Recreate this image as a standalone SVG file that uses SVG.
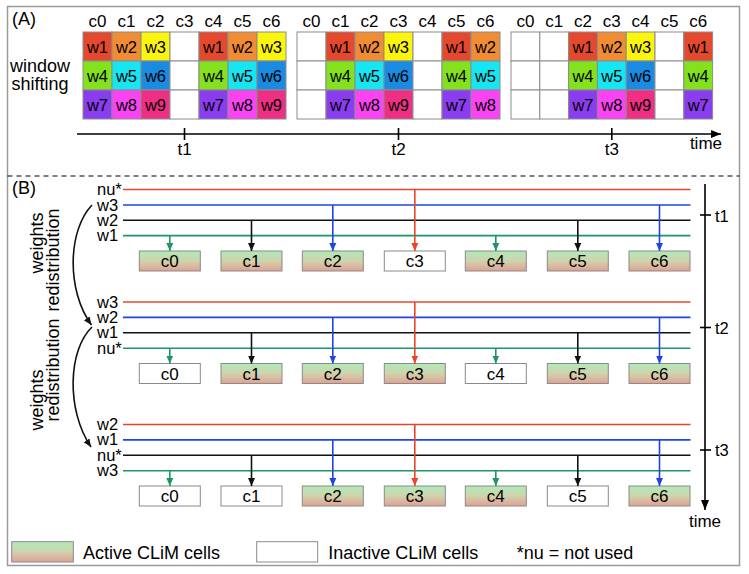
<svg xmlns="http://www.w3.org/2000/svg" width="749" height="574" viewBox="0 0 749 574">
<style>
text{font-family:"Liberation Sans",Arial,Helvetica,sans-serif;fill:#000}
.cl{font-size:17px;text-anchor:middle}
.wt{font-size:16.5px;text-anchor:middle}
.g rect{stroke:#8c8c8c;stroke-width:1}
.k1{fill:#e5492d}.k2{fill:#f08c33}.k3{fill:#fbf50e}.k4{fill:#84e21c}.k5{fill:#16e5f2}
.k6{fill:#1a8be3}.k7{fill:#8a3cef}.k8{fill:#fa44f4}.k9{fill:#ee2f83}.e{fill:#fff}
.lab{font-size:16.5px}
.bx{font-size:17px;text-anchor:middle}
.act{fill:url(#actg);stroke:#8a8a8a;stroke-width:1}
.ina{fill:#fff;stroke:#8a8a8a;stroke-width:1}
.r{stroke:#e8442c}.b{stroke:#1b45e6}.k{stroke:#111}.gr{stroke:#1d9664}
.ln{stroke-width:1.6;fill:none}
.ax{stroke:#000;stroke-width:1.6;fill:none}
.big{font-size:18px}
</style>
<defs>
<linearGradient id="actg" x1="0" y1="0" x2="0" y2="1">
<stop offset="0" stop-color="#b0eab8"/>
<stop offset="0.5" stop-color="#cfd3ad"/>
<stop offset="1" stop-color="#e2a092"/>
</linearGradient>
<marker id="mr" markerUnits="userSpaceOnUse" markerWidth="8" markerHeight="8" viewBox="0 0 8 8" refX="8" refY="4" orient="auto"><path d="M0,0.5 L8,4 L0,7.5 z" fill="#e8442c"/></marker>
<marker id="mb" markerUnits="userSpaceOnUse" markerWidth="8" markerHeight="8" viewBox="0 0 8 8" refX="8" refY="4" orient="auto"><path d="M0,0.5 L8,4 L0,7.5 z" fill="#1b45e6"/></marker>
<marker id="mk" markerUnits="userSpaceOnUse" markerWidth="8" markerHeight="8" viewBox="0 0 8 8" refX="8" refY="4" orient="auto"><path d="M0,0.5 L8,4 L0,7.5 z" fill="#111"/></marker>
<marker id="mg" markerUnits="userSpaceOnUse" markerWidth="8" markerHeight="8" viewBox="0 0 8 8" refX="8" refY="4" orient="auto"><path d="M0,0.5 L8,4 L0,7.5 z" fill="#1d9664"/></marker>
<marker id="ma" markerUnits="userSpaceOnUse" markerWidth="10" markerHeight="10" viewBox="0 0 10 10" refX="10" refY="5" orient="auto"><path d="M0,1 L10,5 L0,9 z" fill="#000"/></marker>
</defs>

<rect x="7.5" y="6.5" width="732" height="559" fill="#fff" stroke="#9a9a9a" stroke-width="1.5"/>
<line x1="7.5" y1="176" x2="739.5" y2="176" stroke="#000" stroke-width="1.2" stroke-dasharray="5,4"/>

<!-- (A) -->
<text x="12" y="25" class="big">(A)</text>
<text x="40" y="72" class="big" text-anchor="middle">window</text>
<text x="40" y="90" class="big" text-anchor="middle">shifting</text>

<g id="grid-t1" class="g">
<text class="cl" x="97.5" y="27">c0</text><text class="cl" x="126.5" y="27">c1</text><text class="cl" x="155.5" y="27">c2</text><text class="cl" x="184.5" y="27">c3</text><text class="cl" x="213.5" y="27">c4</text><text class="cl" x="242.5" y="27">c5</text><text class="cl" x="271.5" y="27">c6</text>
<rect x="83" y="32" width="29" height="29" class="k1"/><rect x="83" y="61" width="29" height="29" class="k4"/><rect x="83" y="90" width="29" height="29" class="k7"/>
<rect x="112" y="32" width="29" height="29" class="k2"/><rect x="112" y="61" width="29" height="29" class="k5"/><rect x="112" y="90" width="29" height="29" class="k8"/>
<rect x="141" y="32" width="29" height="29" class="k3"/><rect x="141" y="61" width="29" height="29" class="k6"/><rect x="141" y="90" width="29" height="29" class="k9"/>
<rect x="170" y="32" width="29" height="29" class="e"/><rect x="170" y="61" width="29" height="29" class="e"/><rect x="170" y="90" width="29" height="29" class="e"/>
<rect x="199" y="32" width="29" height="29" class="k1"/><rect x="199" y="61" width="29" height="29" class="k4"/><rect x="199" y="90" width="29" height="29" class="k7"/>
<rect x="228" y="32" width="29" height="29" class="k2"/><rect x="228" y="61" width="29" height="29" class="k5"/><rect x="228" y="90" width="29" height="29" class="k8"/>
<rect x="257" y="32" width="29" height="29" class="k3"/><rect x="257" y="61" width="29" height="29" class="k6"/><rect x="257" y="90" width="29" height="29" class="k9"/>
<text class="wt" x="97.5" y="52.5">w1</text><text class="wt" x="97.5" y="81.5">w4</text><text class="wt" x="97.5" y="110.5">w7</text>
<text class="wt" x="126.5" y="52.5">w2</text><text class="wt" x="126.5" y="81.5">w5</text><text class="wt" x="126.5" y="110.5">w8</text>
<text class="wt" x="155.5" y="52.5">w3</text><text class="wt" x="155.5" y="81.5">w6</text><text class="wt" x="155.5" y="110.5">w9</text>
<text class="wt" x="213.5" y="52.5">w1</text><text class="wt" x="213.5" y="81.5">w4</text><text class="wt" x="213.5" y="110.5">w7</text>
<text class="wt" x="242.5" y="52.5">w2</text><text class="wt" x="242.5" y="81.5">w5</text><text class="wt" x="242.5" y="110.5">w8</text>
<text class="wt" x="271.5" y="52.5">w3</text><text class="wt" x="271.5" y="81.5">w6</text><text class="wt" x="271.5" y="110.5">w9</text>
</g>

<g id="grid-t2" class="g">
<text class="cl" x="311.5" y="27">c0</text><text class="cl" x="340.5" y="27">c1</text><text class="cl" x="369.5" y="27">c2</text><text class="cl" x="398.5" y="27">c3</text><text class="cl" x="427.5" y="27">c4</text><text class="cl" x="456.5" y="27">c5</text><text class="cl" x="485.5" y="27">c6</text>
<rect x="297" y="32" width="29" height="29" class="e"/><rect x="297" y="61" width="29" height="29" class="e"/><rect x="297" y="90" width="29" height="29" class="e"/>
<rect x="326" y="32" width="29" height="29" class="k1"/><rect x="326" y="61" width="29" height="29" class="k4"/><rect x="326" y="90" width="29" height="29" class="k7"/>
<rect x="355" y="32" width="29" height="29" class="k2"/><rect x="355" y="61" width="29" height="29" class="k5"/><rect x="355" y="90" width="29" height="29" class="k8"/>
<rect x="384" y="32" width="29" height="29" class="k3"/><rect x="384" y="61" width="29" height="29" class="k6"/><rect x="384" y="90" width="29" height="29" class="k9"/>
<rect x="413" y="32" width="29" height="29" class="e"/><rect x="413" y="61" width="29" height="29" class="e"/><rect x="413" y="90" width="29" height="29" class="e"/>
<rect x="442" y="32" width="29" height="29" class="k1"/><rect x="442" y="61" width="29" height="29" class="k4"/><rect x="442" y="90" width="29" height="29" class="k7"/>
<rect x="471" y="32" width="29" height="29" class="k2"/><rect x="471" y="61" width="29" height="29" class="k5"/><rect x="471" y="90" width="29" height="29" class="k8"/>
<text class="wt" x="340.5" y="52.5">w1</text><text class="wt" x="340.5" y="81.5">w4</text><text class="wt" x="340.5" y="110.5">w7</text>
<text class="wt" x="369.5" y="52.5">w2</text><text class="wt" x="369.5" y="81.5">w5</text><text class="wt" x="369.5" y="110.5">w8</text>
<text class="wt" x="398.5" y="52.5">w3</text><text class="wt" x="398.5" y="81.5">w6</text><text class="wt" x="398.5" y="110.5">w9</text>
<text class="wt" x="456.5" y="52.5">w1</text><text class="wt" x="456.5" y="81.5">w4</text><text class="wt" x="456.5" y="110.5">w7</text>
<text class="wt" x="485.5" y="52.5">w2</text><text class="wt" x="485.5" y="81.5">w5</text><text class="wt" x="485.5" y="110.5">w8</text>
</g>

<g id="grid-t3" class="g">
<text class="cl" x="525.4" y="27">c0</text><text class="cl" x="554.2" y="27">c1</text><text class="cl" x="583" y="27">c2</text><text class="cl" x="611.8" y="27">c3</text><text class="cl" x="640.6" y="27">c4</text><text class="cl" x="669.4" y="27">c5</text><text class="cl" x="698.2" y="27">c6</text>
<rect x="511" y="32" width="28.8" height="29" class="e"/><rect x="511" y="61" width="28.8" height="29" class="e"/><rect x="511" y="90" width="28.8" height="29" class="e"/>
<rect x="539.8" y="32" width="28.8" height="29" class="e"/><rect x="539.8" y="61" width="28.8" height="29" class="e"/><rect x="539.8" y="90" width="28.8" height="29" class="e"/>
<rect x="568.6" y="32" width="28.8" height="29" class="k1"/><rect x="568.6" y="61" width="28.8" height="29" class="k4"/><rect x="568.6" y="90" width="28.8" height="29" class="k7"/>
<rect x="597.4" y="32" width="28.8" height="29" class="k2"/><rect x="597.4" y="61" width="28.8" height="29" class="k5"/><rect x="597.4" y="90" width="28.8" height="29" class="k8"/>
<rect x="626.2" y="32" width="28.8" height="29" class="k3"/><rect x="626.2" y="61" width="28.8" height="29" class="k6"/><rect x="626.2" y="90" width="28.8" height="29" class="k9"/>
<rect x="655" y="32" width="28.8" height="29" class="e"/><rect x="655" y="61" width="28.8" height="29" class="e"/><rect x="655" y="90" width="28.8" height="29" class="e"/>
<rect x="683.8" y="32" width="28.8" height="29" class="k1"/><rect x="683.8" y="61" width="28.8" height="29" class="k4"/><rect x="683.8" y="90" width="28.8" height="29" class="k7"/>
<text class="wt" x="583" y="52.5">w1</text><text class="wt" x="583" y="81.5">w4</text><text class="wt" x="583" y="110.5">w7</text>
<text class="wt" x="611.8" y="52.5">w2</text><text class="wt" x="611.8" y="81.5">w5</text><text class="wt" x="611.8" y="110.5">w8</text>
<text class="wt" x="640.6" y="52.5">w3</text><text class="wt" x="640.6" y="81.5">w6</text><text class="wt" x="640.6" y="110.5">w9</text>
<text class="wt" x="698.2" y="52.5">w1</text><text class="wt" x="698.2" y="81.5">w4</text><text class="wt" x="698.2" y="110.5">w7</text>
</g>

<g id="axis-a">
<line x1="77" y1="134" x2="721" y2="134" class="ax" marker-end="url(#ma)"/>
<line x1="184.5" y1="128" x2="184.5" y2="140" class="ax"/>
<line x1="398.5" y1="128" x2="398.5" y2="140" class="ax"/>
<line x1="611.8" y1="128" x2="611.8" y2="140" class="ax"/>
<text x="184.5" y="155" class="cl">t1</text>
<text x="398.5" y="155" class="cl">t2</text>
<text x="611.8" y="155" class="cl">t3</text>
<text x="722" y="149" style="font-size:17px;text-anchor:end">time</text>
</g>

<!-- (B) -->
<text x="12" y="194" class="big">(B)</text>

<g id="lines-t1">
<line x1="123" y1="189.5" x2="690.5" y2="189.5" class="ln r"/>
<line x1="123" y1="205" x2="690.5" y2="205" class="ln b"/>
<line x1="123" y1="220.3" x2="690.5" y2="220.3" class="ln k"/>
<line x1="123" y1="235.6" x2="690.5" y2="235.6" class="ln gr"/>
<text x="97" y="195" class="lab">nu*</text><text x="97" y="210.5" class="lab">w3</text><text x="97" y="225.8" class="lab">w2</text><text x="97" y="241.1" class="lab">w1</text>
</g>
<g id="lines-t2">
<line x1="123" y1="302" x2="690.5" y2="302" class="ln r"/>
<line x1="123" y1="317.4" x2="690.5" y2="317.4" class="ln b"/>
<line x1="123" y1="332.8" x2="690.5" y2="332.8" class="ln k"/>
<line x1="123" y1="348.2" x2="690.5" y2="348.2" class="ln gr"/>
<text x="97" y="307.5" class="lab">w3</text><text x="97" y="322.9" class="lab">w2</text><text x="97" y="338.3" class="lab">w1</text><text x="97" y="353.7" class="lab">nu*</text>
</g>
<g id="lines-t3">
<line x1="123" y1="424.5" x2="690.5" y2="424.5" class="ln r"/>
<line x1="123" y1="439.9" x2="690.5" y2="439.9" class="ln b"/>
<line x1="123" y1="455.3" x2="690.5" y2="455.3" class="ln k"/>
<line x1="123" y1="470.7" x2="690.5" y2="470.7" class="ln gr"/>
<text x="97" y="430" class="lab">w2</text><text x="97" y="445.4" class="lab">w1</text><text x="97" y="460.8" class="lab">nu*</text><text x="97" y="476.2" class="lab">w3</text>
</g>

<g id="t1-c0"><rect x="139.3" y="251" width="61" height="20" class="act"/><text x="169.8" y="267" class="bx">c0</text></g>
<g id="t1-c1"><rect x="221" y="251" width="61" height="20" class="act"/><text x="251.5" y="267" class="bx">c1</text></g>
<g id="t1-c2"><rect x="302.3" y="251" width="61" height="20" class="act"/><text x="332.8" y="267" class="bx">c2</text></g>
<g id="t1-c3"><rect x="384.3" y="251" width="61" height="20" class="ina"/><text x="414.8" y="267" class="bx">c3</text></g>
<g id="t1-c4"><rect x="465.3" y="251" width="61" height="20" class="act"/><text x="495.8" y="267" class="bx">c4</text></g>
<g id="t1-c5"><rect x="547.3" y="251" width="61" height="20" class="act"/><text x="577.8" y="267" class="bx">c5</text></g>
<g id="t1-c6"><rect x="629" y="251" width="61" height="20" class="act"/><text x="659.5" y="267" class="bx">c6</text></g>

<g id="t2-c0"><rect x="139.3" y="363.5" width="61" height="20" class="ina"/><text x="169.8" y="379.5" class="bx">c0</text></g>
<g id="t2-c1"><rect x="221" y="363.5" width="61" height="20" class="act"/><text x="251.5" y="379.5" class="bx">c1</text></g>
<g id="t2-c2"><rect x="302.3" y="363.5" width="61" height="20" class="act"/><text x="332.8" y="379.5" class="bx">c2</text></g>
<g id="t2-c3"><rect x="384.3" y="363.5" width="61" height="20" class="act"/><text x="414.8" y="379.5" class="bx">c3</text></g>
<g id="t2-c4"><rect x="465.3" y="363.5" width="61" height="20" class="ina"/><text x="495.8" y="379.5" class="bx">c4</text></g>
<g id="t2-c5"><rect x="547.3" y="363.5" width="61" height="20" class="act"/><text x="577.8" y="379.5" class="bx">c5</text></g>
<g id="t2-c6"><rect x="629" y="363.5" width="61" height="20" class="act"/><text x="659.5" y="379.5" class="bx">c6</text></g>

<g id="t3-c0"><rect x="139.3" y="486" width="61" height="20" class="ina"/><text x="169.8" y="502" class="bx">c0</text></g>
<g id="t3-c1"><rect x="221" y="486" width="61" height="20" class="ina"/><text x="251.5" y="502" class="bx">c1</text></g>
<g id="t3-c2"><rect x="302.3" y="486" width="61" height="20" class="act"/><text x="332.8" y="502" class="bx">c2</text></g>
<g id="t3-c3"><rect x="384.3" y="486" width="61" height="20" class="act"/><text x="414.8" y="502" class="bx">c3</text></g>
<g id="t3-c4"><rect x="465.3" y="486" width="61" height="20" class="act"/><text x="495.8" y="502" class="bx">c4</text></g>
<g id="t3-c5"><rect x="547.3" y="486" width="61" height="20" class="ina"/><text x="577.8" y="502" class="bx">c5</text></g>
<g id="t3-c6"><rect x="629" y="486" width="61" height="20" class="act"/><text x="659.5" y="502" class="bx">c6</text></g>

<g id="connectors">
<line x1="169.8" y1="235.6" x2="169.8" y2="251" class="ln gr" marker-end="url(#mg)"/>
<line x1="251.5" y1="220.3" x2="251.5" y2="251" class="ln k" marker-end="url(#mk)"/>
<line x1="332.8" y1="205" x2="332.8" y2="251" class="ln b" marker-end="url(#mb)"/>
<line x1="414.8" y1="189.5" x2="414.8" y2="251" class="ln r" marker-end="url(#mr)"/>
<line x1="495.8" y1="235.6" x2="495.8" y2="251" class="ln gr" marker-end="url(#mg)"/>
<line x1="577.8" y1="220.3" x2="577.8" y2="251" class="ln k" marker-end="url(#mk)"/>
<line x1="659.5" y1="205" x2="659.5" y2="251" class="ln b" marker-end="url(#mb)"/>

<line x1="169.8" y1="348.2" x2="169.8" y2="363.5" class="ln gr" marker-end="url(#mg)"/>
<line x1="251.5" y1="332.8" x2="251.5" y2="363.5" class="ln k" marker-end="url(#mk)"/>
<line x1="332.8" y1="317.4" x2="332.8" y2="363.5" class="ln b" marker-end="url(#mb)"/>
<line x1="414.8" y1="302" x2="414.8" y2="363.5" class="ln r" marker-end="url(#mr)"/>
<line x1="495.8" y1="348.2" x2="495.8" y2="363.5" class="ln gr" marker-end="url(#mg)"/>
<line x1="577.8" y1="332.8" x2="577.8" y2="363.5" class="ln k" marker-end="url(#mk)"/>
<line x1="659.5" y1="317.4" x2="659.5" y2="363.5" class="ln b" marker-end="url(#mb)"/>

<line x1="169.8" y1="470.7" x2="169.8" y2="486" class="ln gr" marker-end="url(#mg)"/>
<line x1="251.5" y1="455.3" x2="251.5" y2="486" class="ln k" marker-end="url(#mk)"/>
<line x1="332.8" y1="439.9" x2="332.8" y2="486" class="ln b" marker-end="url(#mb)"/>
<line x1="414.8" y1="424.5" x2="414.8" y2="486" class="ln r" marker-end="url(#mr)"/>
<line x1="495.8" y1="470.7" x2="495.8" y2="486" class="ln gr" marker-end="url(#mg)"/>
<line x1="577.8" y1="455.3" x2="577.8" y2="486" class="ln k" marker-end="url(#mk)"/>
<line x1="659.5" y1="439.9" x2="659.5" y2="486" class="ln b" marker-end="url(#mb)"/>

<path d="M92,205 C68,230 66,290 91.5,325" class="ln k" stroke-width="1.3" marker-end="url(#mk)"/>
<path d="M92,327 C68,350 66,410 91,447" class="ln k" stroke-width="1.3" marker-end="url(#mk)"/>
</g>

<g id="redistribution-labels">
<text transform="translate(43,243) rotate(-90)" class="big" text-anchor="middle">weights</text>
<text transform="translate(59,260) rotate(-90)" class="big" text-anchor="middle">redistribution</text>
<text transform="translate(43,400) rotate(-90)" class="big" text-anchor="middle">weights</text>
<text transform="translate(59,370) rotate(-90)" class="big" text-anchor="middle">redistribution</text>
</g>

<g id="axis-b">
<line x1="705" y1="184" x2="705" y2="510" class="ax" marker-end="url(#ma)"/>
<line x1="700" y1="215" x2="711" y2="215" class="ax"/>
<line x1="700" y1="327.5" x2="711" y2="327.5" class="ax"/>
<line x1="700" y1="450" x2="711" y2="450" class="ax"/>
<text x="715" y="221.5" class="lab">t1</text>
<text x="715" y="333.5" class="lab">t2</text>
<text x="715" y="456" class="lab">t3</text>
<text x="705" y="527" style="font-size:17px;text-anchor:middle">time</text>
</g>

<g id="legend">
<rect x="11.7" y="541.7" width="61.6" height="20.3" class="act"/>
<text x="83" y="559" class="big">Active CLiM cells</text>
<rect x="256.7" y="541.7" width="61" height="20.3" class="ina"/>
<text x="328.3" y="559" class="big">Inactive CLiM cells</text>
<text x="516.7" y="559" class="big">*nu = not used</text>
</g>
</svg>
